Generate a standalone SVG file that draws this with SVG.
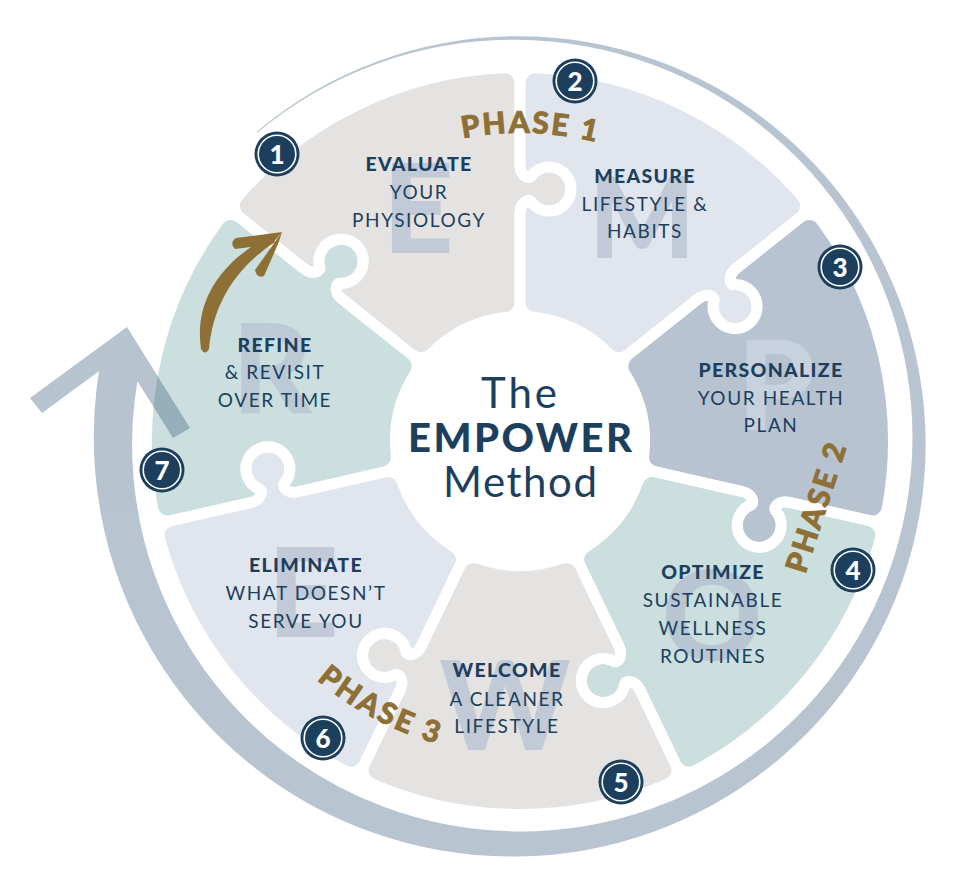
<svg xmlns="http://www.w3.org/2000/svg" width="978" height="886" viewBox="0 0 978 886">
<style>
.hd{font-family:Lato,"Open Sans","Liberation Sans",sans-serif;font-weight:900;font-size:19.5px;fill:#1d3f5e;letter-spacing:1.3px;text-anchor:middle}
.bd{font-family:Lato,"Open Sans","Liberation Sans",sans-serif;font-weight:400;font-size:19px;fill:#1d3f5e;letter-spacing:1.6px;text-anchor:middle}
.big{font-family:Lato,"Liberation Sans",sans-serif;font-weight:900;font-size:124px;fill:#c1cad6;text-anchor:middle}
.ph{font-family:Lato,"Liberation Sans",sans-serif;font-weight:900;font-size:30px;fill:#8e6f35;stroke:#8e6f35;stroke-width:0.8px}
.nb{fill:#1d3f5e}
.nr{fill:none;stroke:#fff;stroke-width:1.6}
.nt{font-family:Lato,"Liberation Sans",sans-serif;font-weight:900;font-size:26px;fill:#fff;text-anchor:middle}
.pz{stroke:#fff;stroke-width:11;stroke-linejoin:round}
.ct{font-family:Lato,"Open Sans","Liberation Sans",sans-serif;fill:#1d3f5e;text-anchor:middle}
</style>
<defs>
<path id="pc" d="M -147.83 -343.00 A 373.5 373.5 0 0 1 147.83 -343.00 A 15 15 0 0 1 155.41 -322.72 L 119.75 -248.66 C 115.41 -239.65 120.70 -231.52 125.12 -233.87 A 22 22 0 1 1 113.84 -210.45 C 112.92 -215.36 103.27 -214.43 98.93 -205.42 L 60.18 -124.95 A 15 15 0 0 1 41.64 -117.33 A 124.5 124.5 0 0 0 -41.64 -117.33 A 15 15 0 0 1 -60.18 -124.95 L -98.93 -205.42 C -103.27 -214.43 -97.98 -222.56 -93.56 -220.21 A 22 22 0 1 0 -104.84 -243.63 C -105.76 -238.72 -115.41 -239.65 -119.75 -248.66 L -155.41 -322.72 A 15 15 0 0 1 -147.83 -343.00 Z"/>
<path id="arc1" d="M 256.6 281.7 A 309 309 0 0 1 793.5 296.5"/>
<path id="arc3" d="M 206.5 452 A 315 315 0 0 0 687 708"/>
</defs>

<g id="piece1">
<use href="#pc" class="pz" fill="#e4e3e1" transform="translate(520 441) rotate(-25.714)"/>
<text class="big" x="418" y="253">E</text>
<text class="hd" x="419" y="171">EVALUATE</text>
<text class="bd" x="419" y="199">YOUR</text>
<text class="bd" x="419" y="227">PHYSIOLOGY</text>
</g>
<g id="piece2">
<use href="#pc" class="pz" fill="#e1e6ee" transform="translate(520 441) rotate(25.714)"/>
<text class="big" x="642" y="258" style="font-size:112px">M</text>
<text class="hd" x="645" y="183">MEASURE</text>
<text class="bd" x="645" y="211">LIFESTYLE &amp;</text>
<text class="bd" x="645" y="238">HABITS</text>
</g>
<g id="piece3">
<use href="#pc" class="pz" fill="#b8c3d2" transform="translate(520 441) rotate(77.143)"/>
<text class="big" x="776" y="430" style="fill:#c8d2de">P</text>
<text class="hd" x="771" y="377">PERSONALIZE</text>
<text class="bd" x="771" y="405">YOUR HEALTH</text>
<text class="bd" x="771" y="432">PLAN</text>
</g>
<g id="piece4">
<use href="#pc" class="pz" fill="#cadfde" transform="translate(520 441) rotate(128.571)"/>
<text class="big" x="712" y="660" style="fill:#b7c6d2">O</text>
<text class="hd" x="713" y="579">OPTIMIZE</text>
<text class="bd" x="713" y="607">SUSTAINABLE</text>
<text class="bd" x="713" y="635">WELLNESS</text>
<text class="bd" x="713" y="663">ROUTINES</text>
</g>
<g id="piece5">
<use href="#pc" class="pz" fill="#e4e3e1" transform="translate(520 441) rotate(180)"/>
<text class="big" x="505" y="750">W</text>
<text class="hd" x="507" y="677">WELCOME</text>
<text class="bd" x="507" y="706">A CLEANER</text>
<text class="bd" x="507" y="733">LIFESTYLE</text>
</g>
<g id="piece6">
<use href="#pc" class="pz" fill="#e1e6ee" transform="translate(520 441) rotate(231.429)"/>
<text class="big" x="303" y="637">E</text>
<text class="hd" x="306" y="572">ELIMINATE</text>
<text class="bd" x="306" y="600">WHAT DOESN’T</text>
<text class="bd" x="306" y="628">SERVE YOU</text>
</g>
<g id="piece7">
<use href="#pc" class="pz" fill="#cadfde" transform="translate(520 441) rotate(282.857)"/>
<text class="big" x="272" y="413" style="fill:#bccad6">R</text>
<text class="hd" x="275" y="352">REFINE</text>
<text class="bd" x="275" y="379">&amp; REVISIT</text>
<text class="bd" x="275" y="407">OVER TIME</text>
</g>

<g id="center">
<text class="ct" x="519" y="408" style="font-size:42px;font-weight:400" textLength="76" lengthAdjust="spacing">The</text>
<text class="ct" x="520" y="452" style="font-size:40px;font-weight:900" textLength="224" lengthAdjust="spacing">EMPOWER</text>
<text class="ct" x="520" y="497" style="font-size:42px;font-weight:400" textLength="154" lengthAdjust="spacing">Method</text>
</g>

<g id="connectors">
<g id="cycle-arrow" fill="#3d5d7c" opacity="0.365">
<path d="M 256.63 131.90 A 403.5 403.5 0 0 1 377.81 61.34 A 404 404 0 0 1 516 36.19 A 405 405 0 0 1 654.77 59.74 A 406 406 0 0 1 777.44 129.43 A 407 407 0 0 1 869.18 237.09 A 408 408 0 0 1 918.76 369.98 A 409.5 409.5 0 0 1 919.96 512.23 A 411 411 0 0 1 872.33 646.73 A 412 412 0 0 1 781.32 757.20 A 413.5 413.5 0 0 1 657.64 830.16 A 415 415 0 0 1 516 856.53 A 416 416 0 0 1 373.38 832.83 A 417.5 417.5 0 0 1 247.02 761.55 A 419 419 0 0 1 152.30 650.98 A 420.5 420.5 0 0 1 100.90 514.19 A 422 422 0 0 1 103.84 345.85 L 142.82 354.84 A 384 384 0 0 0 137.34 507.77 A 385 385 0 0 0 181.68 634.02 A 387 387 0 0 0 266.89 737.88 A 388 388 0 0 0 382.95 806.56 A 390 390 0 0 0 516 831.47 A 391 391 0 0 0 650.03 809.24 A 392.5 392.5 0 0 0 768.76 742.23 A 394 394 0 0 0 857.69 638.28 A 395 395 0 0 0 905.80 509.73 A 396.5 396.5 0 0 0 907.00 372.06 A 397.5 397.5 0 0 0 860.83 241.91 A 398.5 398.5 0 0 0 772.65 135.14 A 400 400 0 0 0 652.90 64.87 A 401 401 0 0 0 516 39.81 A 401.5 401.5 0 0 0 378.52 63.27 A 402 402 0 0 0 257.28 132.67 Z"/>
<path d="M 30 398 L 127 327 L 190 428 L 173 438 L 121 355 L 42 413 Z"/>
</g>
<g id="gold-arrow" fill="#8e6f35">
<path d="M 201 349 C 194 300 221 262 270 235 L 275 242 C 233 270 213 306 209 349 Q 205 356 201 349 Z"/>
<path d="M 282 232 L 236 238 Q 229 243 235 249 L 272 244 Z"/>
<path d="M 282 232 L 255 270 Q 257 279 264 276 L 278 244 Z"/>
</g>
</g>

<g id="phases">
<text class="ph"><textPath href="#arc1" startOffset="50%" text-anchor="middle" textLength="134" lengthAdjust="spacing">PHASE 1</textPath></text>
<text class="ph" transform="translate(826 511) rotate(-72)" text-anchor="middle" textLength="134" lengthAdjust="spacing">PHASE 2</text>
<text class="ph"><textPath href="#arc3" startOffset="50%" text-anchor="middle" textLength="137" lengthAdjust="spacing">PHASE 3</textPath></text>
</g>

<g id="n1" transform="translate(277 154)"><circle class="nb" r="22.5"/><circle class="nr" r="18.8"/><text class="nt" y="9.5">1</text></g>
<g id="n2" transform="translate(575 81)"><circle class="nb" r="22.5"/><circle class="nr" r="18.8"/><text class="nt" y="9.5">2</text></g>
<g id="n3" transform="translate(840 267)"><circle class="nb" r="22.5"/><circle class="nr" r="18.8"/><text class="nt" y="9.5">3</text></g>
<g id="n4" transform="translate(853 570)"><circle class="nb" r="22.5"/><circle class="nr" r="18.8"/><text class="nt" y="9.5">4</text></g>
<g id="n5" transform="translate(621 782)"><circle class="nb" r="22.5"/><circle class="nr" r="18.8"/><text class="nt" y="9.5">5</text></g>
<g id="n6" transform="translate(323 738)"><circle class="nb" r="22.5"/><circle class="nr" r="18.8"/><text class="nt" y="9.5">6</text></g>
<g id="n7" transform="translate(162 470)"><circle class="nb" r="22.5"/><circle class="nr" r="18.8"/><text class="nt" y="9.5">7</text></g>
</svg>
